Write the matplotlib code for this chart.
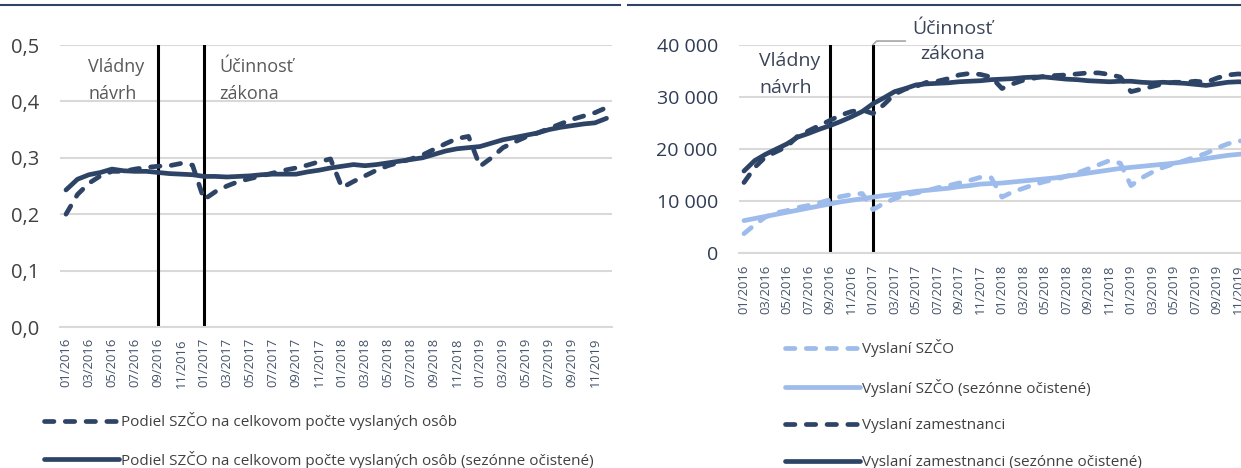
import numpy as np
import matplotlib.pyplot as plt
from matplotlib.lines import Line2D

plt.rcParams['font.family'] = ['Open Sans', 'DejaVu Sans']

navy = '#2E4467'
light = '#9DBBEB'
grid_c = '#D9D9D9'

# monthly labels 01/2016 .. 12/2019
months = [f"{m:02d}/{y}" for y in range(2016, 2020) for m in range(1, 13)]

# left panel: share of self-employed among posted persons
share_raw = [0.200, 0.235, 0.255, 0.268, 0.276, 0.276, 0.280, 0.283, 0.285, 0.286, 0.290, 0.287,
             0.226, 0.240, 0.250, 0.258, 0.263, 0.268, 0.273, 0.278, 0.282, 0.287, 0.293, 0.298,
             0.247, 0.258, 0.268, 0.278, 0.286, 0.292, 0.298, 0.305, 0.315, 0.325, 0.334, 0.338,
             0.285, 0.300, 0.318, 0.328, 0.337, 0.344, 0.352, 0.360, 0.368, 0.374, 0.380, 0.389]
share_sa = [0.243, 0.262, 0.270, 0.274, 0.280, 0.277, 0.276, 0.276, 0.274, 0.272, 0.271, 0.270,
            0.267, 0.267, 0.266, 0.267, 0.268, 0.270, 0.271, 0.271, 0.271, 0.275, 0.278, 0.282,
            0.285, 0.288, 0.286, 0.288, 0.291, 0.294, 0.297, 0.300, 0.306, 0.312, 0.316, 0.318,
            0.320, 0.326, 0.332, 0.336, 0.340, 0.344, 0.350, 0.354, 0.357, 0.360, 0.362, 0.370]

# right panel: counts
szco_raw = [3800, 5500, 7000, 7800, 8200, 8800, 9200, 9700, 10300, 10900, 11300, 11500,
            8400, 9600, 10500, 11200, 11600, 12000, 12600, 13000, 13500, 14000, 14600, 14500,
            10800, 11800, 12500, 13200, 13800, 14200, 14800, 15400, 16200, 17000, 17800, 17300,
            13000, 14500, 15600, 16500, 17200, 17800, 18500, 19200, 20200, 21000, 21600, 21400]
szco_sa = [6300, 6700, 7100, 7500, 7900, 8300, 8700, 9100, 9500, 9900, 10200, 10500,
           10800, 11100, 11300, 11600, 11900, 12100, 12300, 12500, 12800, 13000, 13300, 13400,
           13500, 13700, 13900, 14100, 14300, 14500, 14800, 15100, 15400, 15700, 16000, 16300,
           16500, 16700, 16900, 17100, 17300, 17600, 17900, 18200, 18500, 18800, 19000, 19200]
emp_raw = [13600, 16500, 18500, 19500, 20500, 22500, 23500, 24500, 25500, 26500, 27200, 27500,
           26800, 28500, 30500, 31500, 32000, 32800, 33000, 33500, 34200, 34500, 34300, 33800,
           31600, 32500, 33200, 33600, 34000, 34100, 34200, 34400, 34600, 34600, 34300, 33800,
           31000, 31500, 32000, 32500, 32800, 32800, 33000, 32800, 33600, 34200, 34400, 34200]
emp_sa = [15800, 17800, 19000, 20000, 21000, 22300, 23000, 23800, 24500, 25300, 26200, 27200,
          28700, 29800, 31000, 31600, 32300, 32500, 32600, 32700, 32900, 33000, 33100, 33300,
          33400, 33500, 33700, 33800, 33800, 33600, 33400, 33300, 33100, 33000, 32900, 33000,
          33000, 32800, 32700, 32800, 32700, 32600, 32400, 32200, 32500, 32800, 32900, 32800]

left_ticks = [0.0, 0.1, 0.2, 0.3, 0.4, 0.5]
left_tick_labels = ['0,0', '0,1', '0,2', '0,3', '0,4', '0,5']
right_ticks = [0, 10000, 20000, 30000, 40000]
right_tick_labels = ['0', '10 000', '20 000', '30 000', '40 000']
events = ['09/2016', '01/2017']

W, H = 1241, 468
fig = plt.figure(figsize=(W / 100, H / 100), dpi=100)
axL = fig.add_axes([60.25 / W, 1 - 327 / H, 552 / W, 282 / H])
axR = fig.add_axes([738.6 / W, 1 - 253.5 / H, 516 / W, 208.8 / H])

x = np.arange(len(months))
dash = (0, (2.0, 2.4))
lw = 3.4
kw = dict(solid_capstyle='round', dash_capstyle='round', solid_joinstyle='round', dash_joinstyle='round')

axL.plot(x, share_raw, color=navy, lw=lw, ls=dash, label='Podiel SZČO na celkovom počte vyslaných osôb', **kw)
axL.plot(x, share_sa, color=navy, lw=lw, label='Podiel SZČO na celkovom počte vyslaných osôb (sezónne očistené)', **kw)

axR.plot(x, szco_raw, color=light, lw=lw, ls=dash, label='Vyslaní SZČO', **kw)
axR.plot(x, szco_sa, color=light, lw=lw, label='Vyslaní SZČO (sezónne očistené)', **kw)
axR.plot(x, emp_raw, color=navy, lw=lw, ls=dash, label='Vyslaní zamestnanci', **kw)
axR.plot(x, emp_sa, color=navy, lw=lw, label='Vyslaní zamestnanci (sezónne očistené)', **kw)

for ax, top in [(axL, 0.5), (axR, 40000)]:
    for ev in events:
        ax.plot([months.index(ev)] * 2, [0, top], color='black', lw=2.2, zorder=1)
    ax.set_xlim(-0.5, len(months) - 0.5)
    ax.set_ylim(0, top)
    ax.set_xticks(x[::2])
    ax.set_xticklabels(months[::2], rotation=90, fontsize=9.4, color='#44546A')
    ax.grid(axis='y', color=grid_c, lw=1.5)
    ax.set_axisbelow(True)
    for s in ['top', 'right', 'left']:
        ax.spines[s].set_visible(False)
    ax.spines['bottom'].set_color(grid_c)
    ax.spines['bottom'].set_linewidth(1.5)
    ax.tick_params(length=0)

axL.set_yticks(left_ticks)
axL.set_yticklabels(left_tick_labels, fontsize=14.5, color='#404040')
axL.tick_params(axis='y', pad=15)
axL.tick_params(axis='x', pad=8)
axR.set_yticks(right_ticks)
axR.set_yticklabels(right_tick_labels, fontsize=14, color='#2E3B55')
axR.tick_params(axis='y', pad=15)
axR.tick_params(axis='x', pad=8)

axL.text(1.95, 0.437, 'Vládny\nnávrh', fontsize=13, color='#595959', va='center', linespacing=1.65)
axL.text(13.3, 0.437, 'Účinnosť\nzákona', fontsize=13, color='#595959', va='center', linespacing=1.65)
axR.text(1.4, 34300, 'Vládny\nnávrh', fontsize=14, color='#3A4459', va='center', linespacing=1.6)
axR.annotate('Účinnosť\nzákona', xy=(12, 40000), xytext=(19.4, 40700), fontsize=14, color='#3A4459',
             ha='center', va='center', multialignment='center', linespacing=1.5, annotation_clip=False,
             arrowprops=dict(arrowstyle='-', color='#A6A6A6', lw=1.2, shrinkA=3, shrinkB=0,
                             relpos=(0, 0.5), connectionstyle='angle,angleA=180,angleB=45,rad=0'))

legkw = dict(frameon=False, fontsize=11, handlelength=4.9, handletextpad=0.15,
             borderpad=0, borderaxespad=0, labelspacing=1.35, labelcolor='#404040')
fig.legend(*axL.get_legend_handles_labels(), loc='upper left',
           bbox_to_anchor=(44 / W, 1 - 412 / H), **legkw)
fig.legend(*axR.get_legend_handles_labels(), loc='upper left',
           bbox_to_anchor=(785 / W, 1 - 339 / H), **{**legkw, 'labelspacing': 1.42})

fig.add_artist(Line2D([0, 620 / W], [1 - 5 / H] * 2, color=navy, lw=1.5))
fig.add_artist(Line2D([628 / W, 1], [1 - 5 / H] * 2, color=navy, lw=1.5))

fig.savefig('out.png', dpi=100)
